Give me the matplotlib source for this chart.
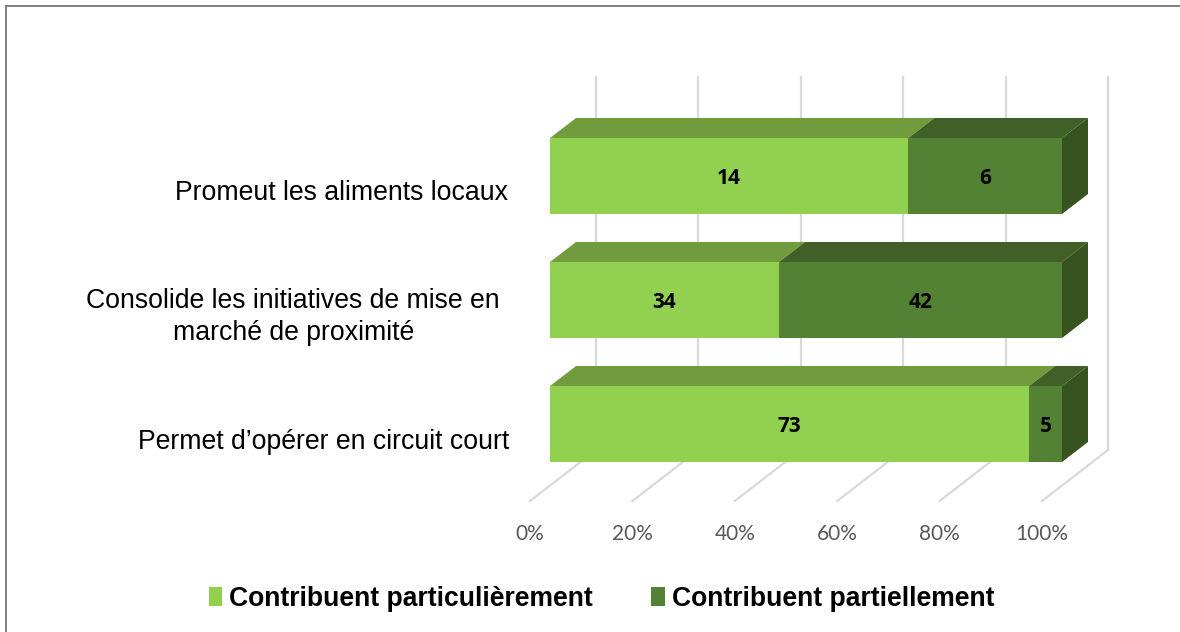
"""Stacked 100% bars with a fake 3D look, French survey labels."""

import matplotlib

matplotlib.use("Agg")
import matplotlib.pyplot as plt
import numpy as np
from matplotlib.lines import Line2D
from matplotlib.patches import Patch, Polygon, Rectangle
from matplotlib.transforms import blended_transform_factory

categories = [
    "Promeut les aliments locaux",
    "Consolide les initiatives de mise en\nmarché de proximité",
    "Permet d’opérer en circuit court",
]
particularly = [14, 34, 73]
partially = [6, 42, 5]
series_names = ["Contribuent particulièrement", "Contribuent partiellement"]
tick_values = [0, 20, 40, 60, 80, 100]

W, H = 1180, 632
FRONT = ["#92D050", "#548235"]
TOP = ["#709C3E", "#3F6027"]
SIDE = "#375320"
GRID = "#D9D9D9"

# axes box in pixels: x range is the front plane of the bars
LEFT, RIGHT, TOP_PX, BOTTOM_PX = 550, 1062, 114, 486
PX_X = 100 / (RIGHT - LEFT)
PX_Y = 3 / (BOTTOM_PX - TOP_PX)
DX, DY = 26 * PX_X, 20 * PX_Y  # bar depth
BAR_H = 76 * PX_Y

fig = plt.figure(figsize=(W / 100, H / 100), dpi=100)
ax = fig.add_axes([LEFT / W, 1 - BOTTOM_PX / H, (RIGHT - LEFT) / W, (BOTTOM_PX - TOP_PX) / H])
ax.set_xlim(0, 100)
ax.set_ylim(2.5, -0.5)
ax.axis("off")

# walls: back gridlines plus floor lines running to the front
for t in tick_values:
    back_x = t + 46 * PX_X
    front_x = t - 20 * PX_X
    wall_top = -0.5 - (114 - 77) * PX_Y
    wall_bottom = 2.5 - (486 - 450) * PX_Y
    floor_front = 2.5 + (501 - 486) * PX_Y
    ax.plot([back_x, back_x], [wall_top, wall_bottom], color=GRID, lw=1.6, clip_on=False, zorder=1)
    ax.plot([back_x, front_x], [wall_bottom, floor_front], color=GRID, lw=1.6, clip_on=False, zorder=1)
    ax.text(front_x, floor_front + 33 * PX_Y, f"{t}%", ha="center", va="center",
            fontsize=15, color="#595959", family="Lato", clip_on=False)

y = np.arange(len(categories))
a = np.array(particularly, dtype=float)
b = np.array(partially, dtype=float)
share_a = a / (a + b) * 100
share_b = b / (a + b) * 100

for i in y:
    top = i - BAR_H / 2
    bottom = i + BAR_H / 2
    segments = [(0, share_a[i], a[i]), (share_a[i], share_b[i], b[i])]
    for k, (start, width, value) in enumerate(segments):
        end = start + width
        ax.add_patch(Polygon([(start, top), (end, top), (end + DX, top - DY), (start + DX, top - DY)],
                             closed=True, fc=TOP[k], ec="none", clip_on=False, zorder=3))
        ax.add_patch(Rectangle((start, top), width, BAR_H, fc=FRONT[k], ec="none", clip_on=False, zorder=4))
        ax.text(start + width / 2, i + 2 * PX_Y, f"{value:.0f}", ha="center", va="center",
                fontsize=15, fontweight="bold", family="Open Sans", color="black", zorder=5)
    ax.add_patch(Polygon([(100, top), (100 + DX, top - DY), (100 + DX, bottom - DY), (100, bottom)],
                         closed=True, fc=SIDE, ec="none", clip_on=False, zorder=3))

# category labels sit a bit lower than the bar centres
label_tr = blended_transform_factory(fig.transFigure, ax.transData)
label_right = [508, 500, 509]
label_shift = [17, 17, 18]
for i, text in enumerate(categories):
    ax.text(label_right[i] / W, i + label_shift[i] * PX_Y, text, transform=label_tr, ha="right", va="center",
            multialignment="center", fontsize=19.2, family="Liberation Sans", color="black", linespacing=1.34)

handles = [Patch(fc=FRONT[0], ec="none"), Patch(fc=FRONT[1], ec="none")]
fig.legend(handles, series_names, loc="center", bbox_to_anchor=(601.5 / W, 1 - 599 / H), ncol=2, frameon=False,
           prop={"family": "Liberation Sans", "weight": "bold", "size": 19.1},
           handlelength=0.51, handleheight=0.7, handletextpad=0.26, columnspacing=2.2)

# chart frame: only top and left edges are visible in the crop
fig.add_artist(Line2D([6 / W, 6 / W], [0, 1 - 5.5 / H], transform=fig.transFigure, color="#7F7F7F", lw=1.4))
fig.add_artist(Line2D([6 / W, 1], [1 - 5.5 / H, 1 - 5.5 / H], transform=fig.transFigure, color="#7F7F7F", lw=1.4))

fig.savefig("out.png", dpi=100)
